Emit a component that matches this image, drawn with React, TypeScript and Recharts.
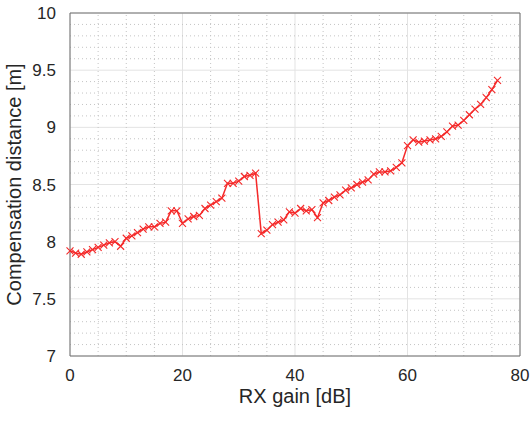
import { CartesianGrid, Line, LineChart, ReferenceLine, XAxis, YAxis } from "recharts";

// RX gain sweep, 1 dB steps
const GAIN_DB = Array.from({ length: 77 }, (_, i) => i);

// compensation distance, one per gain step
const DISTANCE_M = [
  7.92, 7.9, 7.89, 7.91, 7.93, 7.95, 7.97, 7.99, 8.0, 7.96,
  8.03, 8.05, 8.08, 8.11, 8.13, 8.13, 8.16, 8.17, 8.27, 8.27,
  8.16, 8.2, 8.22, 8.23, 8.29, 8.32, 8.35, 8.38, 8.51, 8.51,
  8.53, 8.57, 8.58, 8.6, 8.07, 8.1, 8.15, 8.17, 8.19, 8.26,
  8.25, 8.29, 8.27, 8.28, 8.21, 8.34, 8.36, 8.39, 8.41, 8.45,
  8.47, 8.5, 8.52, 8.54, 8.59, 8.61, 8.61, 8.62, 8.65, 8.69,
  8.84, 8.89, 8.87, 8.88, 8.89, 8.9, 8.92, 8.96, 9.01, 9.02,
  9.06, 9.11, 9.16, 9.2, 9.26, 9.33, 9.41,
];

const X_TICKS = [0, 20, 40, 60, 80];
const Y_TICKS = [7, 7.5, 8, 8.5, 9, 9.5, 10];
const X_MINOR = [5, 10, 15, 25, 30, 35, 45, 50, 55, 65, 70, 75];
const Y_MINOR = [
  7.1, 7.2, 7.3, 7.4, 7.6, 7.7, 7.8, 7.9, 8.1, 8.2, 8.3, 8.4,
  8.6, 8.7, 8.8, 8.9, 9.1, 9.2, 9.3, 9.4, 9.6, 9.7, 9.8, 9.9,
];

const data = GAIN_DB.map((g, i) => ({ gain: g, dist: DISTANCE_M[i] }));

const RED = "#f52a2a";
const FONT = "'Liberation Sans', Arial, sans-serif";

function CrossDot(props: any) {
  const { cx, cy } = props;
  if (cx == null || cy == null) return null;
  const s = 3.5;
  return (
    <path
      d={`M${cx - s},${cy - s}L${cx + s},${cy + s}M${cx - s},${cy + s}L${cx + s},${cy - s}`}
      stroke={RED}
      strokeWidth={1.1}
      fill="none"
    />
  );
}

export default function App() {
  return (
    <div style={{ position: "absolute", left: 0, top: 0, background: "#fff" }}>
      <LineChart
        width={532}
        height={421}
        data={data}
        margin={{ top: 13, right: 12, bottom: 0, left: 0 }}
        style={{ fontFamily: FONT }}
      >
        {X_MINOR.map((v) => (
          <ReferenceLine key={"vx" + v} x={v} stroke="#c4c4c4" strokeDasharray="1 3" />
        ))}
        {Y_MINOR.map((v) => (
          <ReferenceLine key={"hy" + v} y={v} stroke="#c4c4c4" strokeDasharray="1 3" />
        ))}
        <CartesianGrid stroke="#e3e3e3" />
        <ReferenceLine x={80} stroke="#6e6e6e" />
        <ReferenceLine y={10} stroke="#6e6e6e" />
        <XAxis
          dataKey="gain"
          type="number"
          domain={[0, 80]}
          ticks={X_TICKS}
          height={65}
          stroke="#6e6e6e"
          tickLine={false}
          tickMargin={7}
          tick={{ fill: "#262626", fontSize: 17 }}
          label={{ value: "RX gain [dB]", position: "insideBottom", offset: 18, fill: "#262626", fontSize: 20 }}
        />
        <YAxis
          type="number"
          domain={[7, 10]}
          ticks={Y_TICKS}
          width={70}
          stroke="#6e6e6e"
          tickLine={false}
          tickMargin={8}
          tick={{ fill: "#262626", fontSize: 17 }}
          label={{
            value: "Compensation distance [m]",
            angle: -90,
            position: "insideLeft",
            offset: 14,
            style: { textAnchor: "middle" },
            fill: "#262626",
            fontSize: 20,
          }}
        />
        <Line
          dataKey="dist"
          stroke={RED}
          strokeWidth={1.5}
          dot={<CrossDot />}
          activeDot={false}
          isAnimationActive={false}
        />
      </LineChart>
    </div>
  );
}
